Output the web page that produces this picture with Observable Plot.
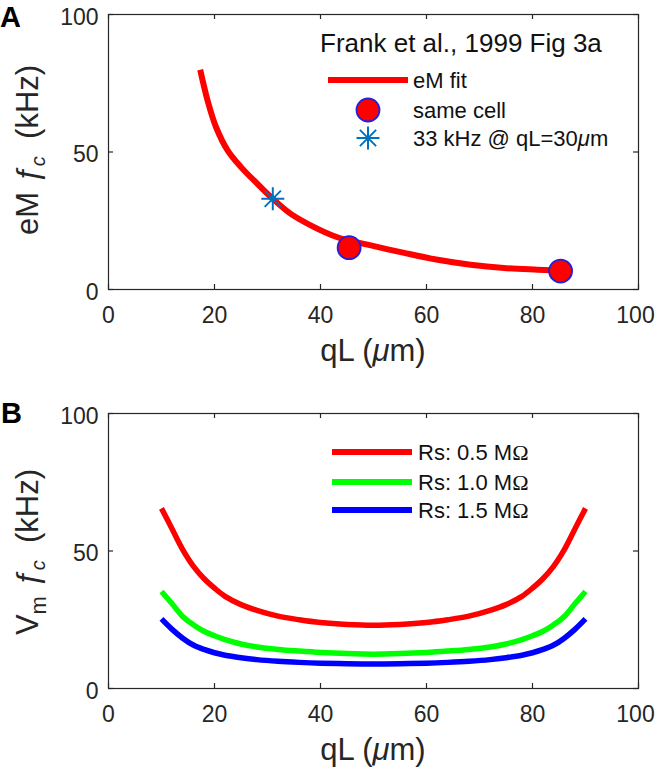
<!DOCTYPE html>
<html><head><meta charset="utf-8">
<script src="https://cdn.jsdelivr.net/npm/d3@7"></script>
<script src="https://cdn.jsdelivr.net/npm/@observablehq/plot@0.6"></script>
<style>
body{margin:0;background:#fff;}
#wrap{position:relative;width:656px;height:769px;overflow:hidden;}
#wrap svg{position:absolute;left:0;}
</style></head><body><div id="wrap"></div>
<script>
// ---------- data ----------
// Panel A: eM fit curve
const fitX = [17.3, 18.7, 20.3, 22.5, 25.0, 28.1, 31.0, 34.4, 38.8, 43.2, 48.9, 55.8, 62.1, 68.3, 74.6, 80.9, 84.7];
const fitY = [79.9, 68.7, 59.0, 50.5, 44.5, 38.4, 33.0, 27.5, 22.7, 19.0, 16.3, 13.3, 10.8, 9.0, 7.8, 7.2, 6.9];
// Panel A: same-cell measurements
const cellX = [45.4, 85.3];
const cellY = [15.2, 6.7];
// Panel A: reference point 33 kHz @ qL = 30 um
const refX = [31.0];
const refY = [33.0];
// Panel B: Vm fc vs qL for three series resistances
const qLB  = [10, 12, 14, 16, 18, 20, 22, 25, 28, 32, 36, 40, 45, 50, 55, 60, 64, 68, 72, 75, 78, 80, 82, 84, 86, 88, 90];
const rs05 = [65.5, 58, 50.5, 44.5, 40, 36.5, 33.5, 30.5, 28.4, 26.3, 25, 24, 23.3, 23, 23.3, 24, 25, 26.3, 28.4, 30.5, 33.5, 36.5, 40, 44.5, 50.5, 58, 65.5];
const rs10 = [35.3, 30.8, 26.2, 23.2, 20.8, 19.2, 17.8, 16.2, 15.1, 14.2, 13.6, 13.1, 12.7, 12.5, 12.7, 13.1, 13.6, 14.2, 15.1, 16.2, 17.8, 19.2, 20.8, 23.2, 26.2, 30.8, 35.3];
const rs15 = [25.3, 21.5, 18.3, 15.8, 14.2, 13.0, 12.1, 11.2, 10.5, 9.9, 9.5, 9.2, 9.0, 8.9, 9.0, 9.2, 9.5, 9.9, 10.5, 11.2, 12.1, 13.0, 14.2, 15.8, 18.3, 21.5, 25.3];
const seriesNames = ["Rs: 0.5 M", "Rs: 1.0 M", "Rs: 1.5 M"];
const seriesColors = ["#ff0000", "#00ff00", "#0000ff"];
// ticks
const xTicks = [0, 20, 40, 60, 80, 100];
const yTicks = [0, 50, 100];

// ---------- layout ----------
const W = 656;
const ML = 108, MR = 18;
const FW = W - ML - MR;   // frame width
const FH = 275;           // frame height
const FONT = '"Liberation Sans", Arial, Helvetica, sans-serif';
const AX = "#262626";

const asterisk8 = {
  draw(ctx, size) {
    const r = Math.sqrt(size / Math.PI), d = r / Math.SQRT2;
    ctx.moveTo(-r, 0); ctx.lineTo(r, 0);
    ctx.moveTo(0, -r); ctx.lineTo(0, r);
    ctx.moveTo(-d, -d); ctx.lineTo(d, d);
    ctx.moveTo(-d, d); ctx.lineTo(d, -d);
  }
};

function frameMarks() {
  const xMax = xTicks[xTicks.length - 1];
  return [
    Plot.frame({stroke: AX, strokeWidth: 1.2}),
    Plot.tickX(xTicks, {x: d => d, stroke: AX, strokeWidth: 1.2, insetTop: FH - 5}),
    Plot.tickX(xTicks, {x: d => d, stroke: AX, strokeWidth: 1.2, insetBottom: FH - 5}),
    Plot.tickY(yTicks, {y: d => d, stroke: AX, strokeWidth: 1.2, insetRight: FW - 5}),
    Plot.tickY(yTicks, {y: d => d, stroke: AX, strokeWidth: 1.2, insetLeft: FW - 5}),
    Plot.axisX(xTicks.filter(t => t !== xMax), {tickSize: 0, tickPadding: 17, label: null, fontSize: 23, fill: AX}),
    Plot.axisX([xMax], {tickSize: 0, tickPadding: 17, label: null, fontSize: 23, fill: AX, dx: -3}),
    Plot.axisY(yTicks, {tickSize: 0, tickPadding: 10, label: null, fontSize: 23, fill: AX, dy: 3})
  ];
}

function makePanel(height, mt, mb, marks) {
  return Plot.plot({
    width: W, height,
    marginLeft: ML, marginRight: MR, marginTop: mt, marginBottom: mb,
    x: {domain: [0, 100]},
    y: {domain: [0, 100]},
    style: {fontFamily: FONT, fontSize: "23px", color: AX, background: "transparent", overflow: "visible"},
    marks: [...frameMarks(), ...marks]
  });
}

// Panel A
const fitA = fitX.map((x, i) => ({x, y: fitY[i]}));
const cells = cellX.map((x, i) => ({x, y: cellY[i]}));
const refs = refX.map((x, i) => ({x, y: refY[i]}));
const svgA = makePanel(380, 14, 91, [
  Plot.line(fitA, {x: "x", y: "y", stroke: "#ff0000", strokeWidth: 6, curve: "catmull-rom", strokeLinecap: "butt"}),
  Plot.dot(cells, {x: "x", y: "y", r: 11.5, fill: "#ff0000", stroke: "#2020dd", strokeWidth: 1.8}),
  Plot.dot(refs, {x: "x", y: "y", r: 11.5, symbol: asterisk8, fill: "none", stroke: "#0072BD", strokeWidth: 2})
]);
svgA.style.top = "0px";

// Panel B
const rows = [];
[rs05, rs10, rs15].forEach((arr, s) => arr.forEach((v, i) => rows.push({x: qLB[i], y: v, s: seriesNames[s]})));
const svgB = makePanel(389, 33, 81, [
  Plot.line(rows, {x: "x", y: "y", z: "s", stroke: d => seriesColors[seriesNames.indexOf(d.s)], strokeWidth: 5.5, curve: "catmull-rom", strokeLinecap: "butt"})
]);
svgB.style.top = "380px";

const wrap = document.getElementById("wrap");
wrap.appendChild(svgA);
wrap.appendChild(svgB);

// ---------- overlay: panel letters, axis titles, legends ----------
const ov = d3.select(wrap).append("svg").attr("width", W).attr("height", 769)
  .style("top", "0px").style("font-family", FONT);

function richText(g, parts) {
  parts.forEach(p => {
    const ts = g.append("tspan").text(p.t);
    if (p.i) ts.attr("font-style", "italic");
    if (p.f) ts.attr("font-family", p.f);
    if (p.s) ts.attr("font-size", p.s);
    if (p.dy) ts.attr("dy", p.dy);
  });
  return g;
}

// panel letters
ov.append("text").attr("x", 0).attr("y", 27).attr("font-size", 29).attr("font-weight", "bold").attr("fill", "#000").text("A");
ov.append("text").attr("x", 1).attr("y", 423).attr("font-size", 29).attr("font-weight", "bold").attr("fill", "#000").text("B");

// x axis titles
[361, 760].forEach(by => {
  const t = ov.append("text").attr("x", ML + FW / 2).attr("y", by).attr("text-anchor", "middle")
    .attr("font-size", 31).attr("fill", AX).attr("xml:space", "preserve");
  richText(t, [{t: "qL ("}, {t: "\u03bc", i: true}, {t: "m)"}]);
});

// y axis titles
const ya = ov.append("text").attr("transform", "translate(38,150) rotate(-90)").attr("text-anchor", "middle")
  .attr("font-size", 31).attr("fill", AX).attr("xml:space", "preserve");
richText(ya, [{t: "eM "}, {t: "\u0192", i: true}, {t: "c", i: true, s: 20, dy: 7}, {t: "  (kHz)", dy: -7}]);
const yb = ov.append("text").attr("transform", "translate(38,552) rotate(-90)").attr("text-anchor", "middle")
  .attr("font-size", 31).attr("fill", AX).attr("xml:space", "preserve");
richText(yb, [{t: "V"}, {t: "m", s: 22, dy: 8}, {t: " ", dy: -8}, {t: "\u0192", i: true}, {t: "c", i: true, s: 20, dy: 7}, {t: "  (kHz)", dy: -7}]);

// legend A
ov.append("text").attr("x", 320).attr("y", 43).attr("dominant-baseline", "central")
  .attr("font-size", 26).attr("fill", "#111").text("Frank et al., 1999 Fig 3a");
ov.append("line").attr("x1", 328).attr("x2", 408).attr("y1", 80).attr("y2", 80).attr("stroke", "#ff0000").attr("stroke-width", 6);
ov.append("circle").attr("cx", 368).attr("cy", 110).attr("r", 11.5).attr("fill", "#ff0000").attr("stroke", "#2020dd").attr("stroke-width", 1.8);
ov.append("path").attr("transform", "translate(368,138)").attr("d", d3.symbol(asterisk8, Math.PI * 11.5 * 11.5)())
  .attr("fill", "none").attr("stroke", "#0072BD").attr("stroke-width", 2);
const legA = [["eM fit", 80], ["same cell", 110]];
legA.forEach(([t, y]) => ov.append("text").attr("x", 413).attr("y", y).attr("dominant-baseline", "central")
  .attr("font-size", 22).attr("fill", "#111").text(t));
richText(ov.append("text").attr("x", 413).attr("y", 138).attr("dominant-baseline", "central")
  .attr("font-size", 22).attr("fill", "#111").attr("xml:space", "preserve"),
  [{t: "33 kHz @ qL=30"}, {t: "\u03bc", i: true}, {t: "m"}]);

// legend B
const legBY = [452, 482, 510];
seriesNames.forEach((n, i) => {
  ov.append("line").attr("x1", 332).attr("x2", 412).attr("y1", legBY[i]).attr("y2", legBY[i])
    .attr("stroke", seriesColors[i]).attr("stroke-width", 6);
  richText(ov.append("text").attr("x", 418).attr("y", legBY[i]).attr("dominant-baseline", "central")
    .attr("font-size", 22).attr("fill", "#111"),
    [{t: n}, {t: "\u03a9", f: '"Liberation Serif", "DejaVu Serif", serif'}]);
});
</script>
</body></html>
